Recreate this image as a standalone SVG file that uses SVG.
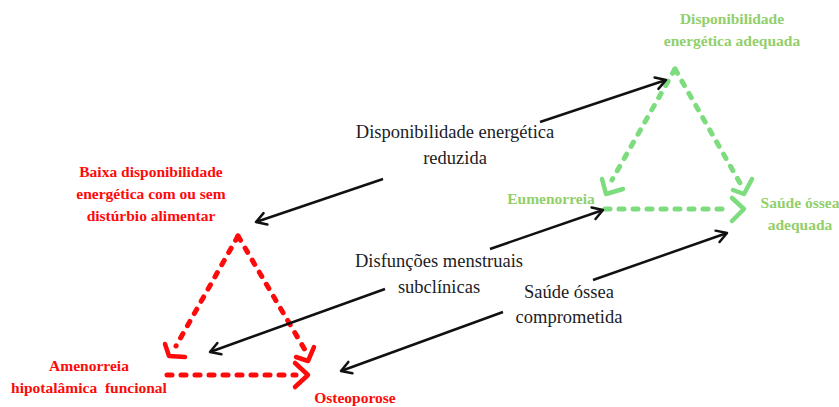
<svg xmlns="http://www.w3.org/2000/svg" width="839" height="407" viewBox="0 0 839 407">
<defs>
<style>
.bg{fill:#ffffff}
.red{fill:#ff0a0a;font-family:"Liberation Serif",serif;font-weight:bold;font-size:15.5px;text-anchor:middle}
.grn{fill:#92cf6a;font-family:"Liberation Serif",serif;font-weight:bold;font-size:15.5px;text-anchor:middle}
.blk{fill:#1c1c24;font-family:"Liberation Serif",serif;font-size:18.5px;text-anchor:middle}
.rd{fill:none;stroke:#ff0a0a;stroke-width:5;stroke-linecap:round;stroke-dasharray:5 9}
.gd{fill:none;stroke:#7ddc7d;stroke-width:5;stroke-linecap:round;stroke-dasharray:5 9}
.rc{fill:none;stroke:#ff0a0a;stroke-width:4.5;stroke-linecap:round;stroke-linejoin:round}
.gc{fill:none;stroke:#7ddc7d;stroke-width:4.5;stroke-linecap:round;stroke-linejoin:round}
.ar{fill:none;stroke:#111111;stroke-width:2.5;marker-end:url(#ah)}
</style>
<marker id="ah" markerUnits="userSpaceOnUse" viewBox="-12 -8 14 16" refX="0" refY="0" markerWidth="14" markerHeight="16" orient="auto">
<path d="M-10,-6 L0,0 L-10,6" fill="none" stroke="#111111" stroke-width="2.5" stroke-linecap="round" stroke-linejoin="round"/>
</marker>
</defs>
<rect class="bg" x="0" y="0" width="839" height="407"/>

<g id="red-triangle">
<line class="rd" x1="238" y1="236" x2="176" y2="346"/>
<polyline class="rc" points="165,344 169,356 185,357"/>
<line class="rd" x1="238" y1="236" x2="305" y2="350"/>
<polyline class="rc" points="314,347 308,361 296,357"/>
<line class="rd" x1="167" y1="375" x2="296" y2="375"/>
<polyline class="rc" points="295,363 308,375 295,387"/>
</g>

<g id="green-triangle">
<line class="gd" x1="675" y1="69" x2="612" y2="180"/>
<polyline class="gc" points="602,179 606,194 623,189"/>
<line class="gd" x1="675" y1="69" x2="740" y2="183"/>
<polyline class="gc" points="752,179 744,194 733,190"/>
<line class="gd" x1="605" y1="209" x2="731" y2="209"/>
<polyline class="gc" points="732,198 744,209 732,221"/>
</g>

<g id="node-baixa">
<text class="red" x="151" y="177">Baixa disponibilidade</text>
<text class="red" x="151" y="199">energética com ou sem</text>
<text class="red" x="151" y="221">distúrbio alimentar</text>
</g>
<g id="node-amenorreia">
<text class="red" x="89" y="371">Amenorreia</text>
<text class="red" x="89" y="393" xml:space="preserve">hipotalâmica  funcional</text>
</g>
<g id="node-osteoporose">
<text class="red" x="355" y="403">Osteoporose</text>
</g>
<g id="node-disp-adequada">
<text class="grn" x="732" y="24">Disponibilidade</text>
<text class="grn" x="732" y="46">energética adequada</text>
</g>
<g id="node-eumenorreia">
<text class="grn" x="551" y="204">Eumenorreia</text>
</g>
<g id="node-saude-adequada">
<text class="grn" x="800" y="208">Saúde óssea</text>
<text class="grn" x="800" y="230">adequada</text>
</g>

<g id="label-disp-reduzida">
<text class="blk" x="455" y="138">Disponibilidade energética</text>
<text class="blk" x="455" y="164">reduzida</text>
</g>
<g id="label-disfuncoes">
<text class="blk" x="439" y="267">Disfunções menstruais</text>
<text class="blk" x="439" y="293">subclínicas</text>
</g>
<g id="label-saude-comprometida">
<text class="blk" x="569" y="298">Saúde óssea</text>
<text class="blk" x="569" y="323">comprometida</text>
</g>

<g id="connectors">
<line class="ar" x1="383" y1="179" x2="256" y2="222"/>
<line class="ar" x1="540" y1="122" x2="666" y2="80"/>
<line class="ar" x1="490" y1="249" x2="603" y2="210"/>
<line class="ar" x1="385" y1="289" x2="210" y2="352"/>
<line class="ar" x1="593" y1="280" x2="727" y2="233"/>
<line class="ar" x1="503" y1="312" x2="341" y2="371"/>
</g>
</svg>
